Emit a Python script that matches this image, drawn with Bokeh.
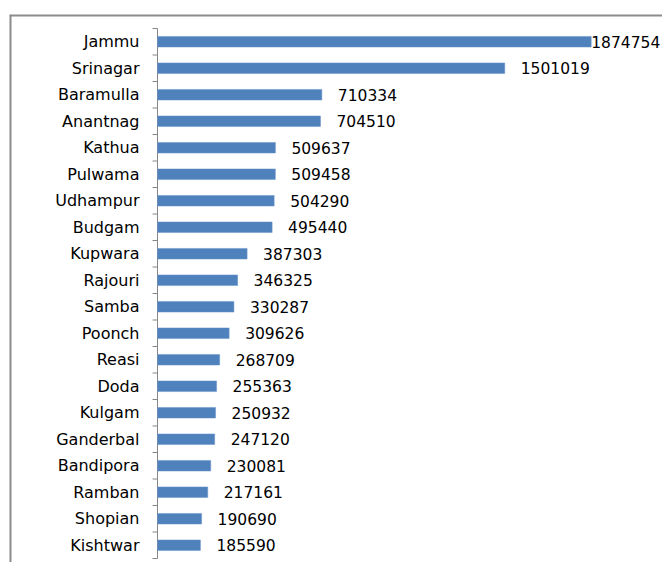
import numpy as np
from bokeh.plotting import figure
from bokeh.models import Range1d, ColumnDataSource, Span
from bokeh.embed import file_html
from bokeh.resources import INLINE
from bokeh.core.properties import value

districts = ["Jammu", "Srinagar", "Baramulla", "Anantnag", "Kathua", "Pulwama",
             "Udhampur", "Budgam", "Kupwara", "Rajouri", "Samba", "Poonch", "Reasi",
             "Doda", "Kulgam", "Ganderbal", "Bandipora", "Ramban", "Shopian", "Kishtwar"]
population = [1874754, 1501019, 710334, 704510, 509637, 509458, 504290, 495440,
              387303, 346325, 330287, 309626, 268709, 255363, 250932, 247120,
              230081, 217161, 190690, 185590]

n = len(districts)
ypos = [n - 1 - i for i in range(n)]
bounds = [k - 0.5 for k in range(n + 1)]
offsets = [0 if v > 1.8e6 else 16 for v in population]

src = ColumnDataSource(dict(y=ypos, v=population, name=districts,
                            lab=[str(v) for v in population], off=offsets))

W, H = 662, 562
left_px, top_px = 9, 14          # chart-area border position
axis_px, plot_top, plot_bot = 157, 28, 558
x_per_px = 1 / 0.00023134
y_per_px = n / (plot_bot - plot_top)

x0 = -(axis_px - left_px) * x_per_px
x1 = (W - axis_px) * x_per_px
y1 = (n - 0.5) + (plot_top - top_px) * y_per_px
y0 = -0.5 - (H - plot_bot) * y_per_px

p = figure(width=W - left_px, height=H - top_px, output_backend="svg",
           toolbar_location=None, x_axis_location=None, y_axis_location=None,
           x_range=Range1d(x0, x1), y_range=Range1d(y0, y1),
           min_border_left=0, min_border_top=0, min_border_bottom=0,
           min_border_right=0)
p.width = W
p.height = H
p.min_border_left = left_px
p.min_border_top = top_px
p.xgrid.visible = False
p.ygrid.visible = False
p.outline_line_color = None

# chart-area border (left and top)
p.add_layout(Span(location=x0, dimension="height", line_color="#8c8c8c", line_width=4))
p.add_layout(Span(location=y1, dimension="width", line_color="#8c8c8c", line_width=4))

# category axis line and boundary ticks
p.segment(x0=0, y0=bounds[0], x1=0, y1=bounds[-1], line_color="#868686", line_width=1)
p.ray(x=[0] * len(bounds), y=bounds, length=5, length_units="screen", angle=np.pi,
      line_color="#868686", line_width=1)

p.hbar(y="y", right="v", left=0, height=0.4, source=src,
       fill_color="#4F81BD", line_color="#6a94c8", line_width=0.5)

p.text(x=0, y="y", text="name", x_offset=-18, source=src,
       text_align="right", text_baseline="middle",
       text_font=value("DejaVu Sans"), text_font_size="16px", text_color="#000000")
p.text(x="v", y="y", text="lab", x_offset="off", source=src,
       text_align="left", text_baseline="middle",
       text_font=value("DejaVu Sans"), text_font_size="15.5px", text_color="#000000")

open("out.html", "w").write(file_html(p, INLINE))
